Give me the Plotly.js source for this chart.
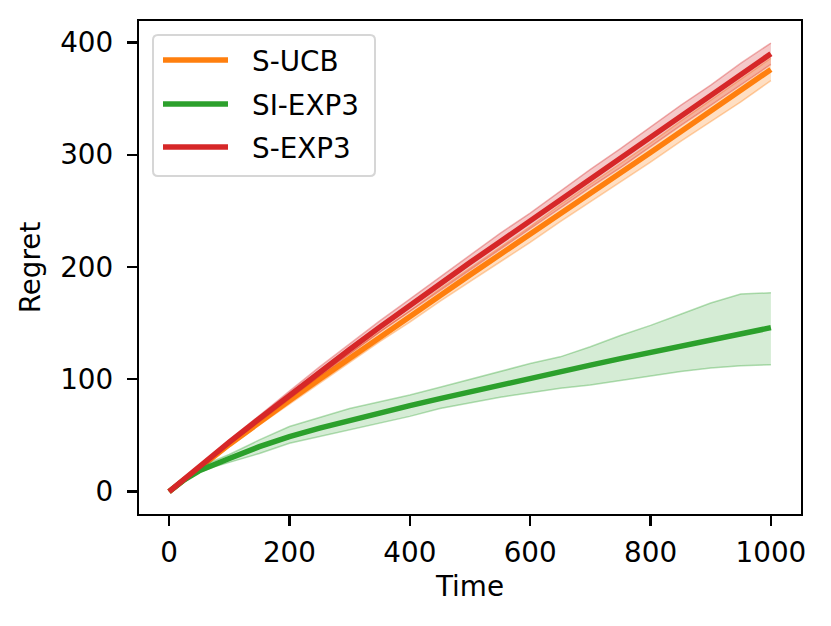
<!DOCTYPE html>
<html>
<head>
<meta charset="utf-8">
<script src="https://cdn.plot.ly/plotly-3.0.1.min.js"></script>
<style>
  html, body { margin: 0; padding: 0; background: #fff; }
  #chart { width: 831px; height: 626px; }
</style>
</head>
<body>
<div id="chart"></div>
<script>
// time steps shared by every series (finer near the start where SI-EXP3 bends)
const time = [0, 10, 25, 50, 75, 100, 150, 200, 250, 300, 350, 400, 450, 500,
  550, 600, 650, 700, 750, 800, 850, 900, 950, 1000];

// S-UCB
const sucbMean = [0, 4.4, 10.8, 21, 31.5, 42, 62, 81, 100, 119, 137.5, 156, 174.5, 193,
  211, 229, 247.5, 266, 284, 302, 320.5, 339, 357.5, 376];
const sucbUpper = [0, 4.6, 11.2, 22, 33, 44, 64.5, 84, 103.5, 123, 142.5, 161, 180.5, 199,
  217.5, 236, 255.5, 274, 292, 310.5, 330, 348.5, 367, 386];
const sucbLower = [0, 4.2, 10.4, 20, 30, 40, 59.5, 78, 96.5, 115, 133.5, 151, 169.5, 187,
  204.5, 222, 240.5, 258, 276, 293.5, 312, 329.5, 347, 366];

// SI-EXP3
const siexpMean = [0, 4.4, 10.5, 18.5, 24.5, 29.5, 40, 49, 56.5, 63.5, 70, 76.5, 82.8, 89,
  95, 101, 106.8, 112.6, 118.4, 124, 129.6, 135.2, 140.6, 146];
const siexpUpper = [0, 4.6, 11, 20.5, 27.5, 33, 46, 58, 66, 74, 80, 86, 93, 100,
  107, 114, 120, 129, 139, 148, 158, 168, 176, 177];
const siexpLower = [0, 4.2, 10, 17, 22, 26, 34, 43, 49, 55, 61, 67, 74, 79,
  84, 88, 92, 95, 99, 103, 107, 110, 112, 113];

// S-EXP3
const sexpMean = [0, 4.5, 11, 22, 33, 44, 65, 86, 106.5, 126.5, 146.5, 166, 185, 204,
  222.5, 241, 260, 278.5, 297, 316, 334.5, 353, 371.5, 390];
const sexpUpper = [0, 4.7, 11.5, 23, 34.5, 46, 68, 89.5, 111, 131.5, 152, 171.5, 191, 210.5,
  230, 248, 267.5, 287, 305.5, 324.5, 344, 362, 381.5, 399.5];
const sexpLower = [0, 4.3, 10.5, 21, 31.5, 42, 62, 82.5, 103, 122.5, 142, 160.5, 179, 197.5,
  216, 234, 252.5, 271, 288.5, 307.5, 326, 344, 362.5, 380.5];

const seriesNames = ['S-UCB', 'SI-EXP3', 'S-EXP3'];
const seriesColors = ['#ff7f0e', '#2ca02c', '#d62728'];

const series = [
  { name: seriesNames[0], color: seriesColors[0], mean: sucbMean, upper: sucbUpper, lower: sucbLower, alpha: 0.25 },
  { name: seriesNames[1], color: seriesColors[1], mean: siexpMean, upper: siexpUpper, lower: siexpLower, alpha: 0.2 },
  { name: seriesNames[2], color: seriesColors[2], mean: sexpMean, upper: sexpUpper, lower: sexpLower, alpha: 0.25 },
];

function rgba(hex, a) {
  const n = parseInt(hex.slice(1), 16);
  return `rgba(${(n >> 16) & 255},${(n >> 8) & 255},${n & 255},${a})`;
}

const data = [];
series.forEach(s => {
  data.push({
    x: time, y: s.lower, mode: 'lines', showlegend: false, hoverinfo: 'skip',
    line: { color: rgba(s.color, 0.35), width: 1.5 },
  });
  data.push({
    x: time, y: s.upper, mode: 'lines', showlegend: false, hoverinfo: 'skip',
    fill: 'tonexty', fillcolor: rgba(s.color, s.alpha),
    line: { color: rgba(s.color, 0.35), width: 1.5 },
  });
  data.push({
    x: time, y: s.mean, mode: 'lines', name: s.name, showlegend: false,
    line: { color: s.color, width: 5.5 },
  });
});

// plot area in pixels (matplotlib-like axes box)
const W = 831, H = 626;
const M = { l: 139, r: 30, t: 21, b: 112 };
const px = x => (x - M.l) / (W - M.l - M.r);
const py = y => (H - M.b - y) / (H - M.t - M.b);

// legend drawn by hand so the sample lines match matplotlib's length
const box = { x0: 153, x1: 375, y0: 35, y1: 176, r: 5 };
const shapes = [{
  type: 'path', xref: 'paper', yref: 'paper',
  path: `M${px(box.x0 + box.r)},${py(box.y0)} L${px(box.x1 - box.r)},${py(box.y0)} ` +
    `Q${px(box.x1)},${py(box.y0)} ${px(box.x1)},${py(box.y0 + box.r)} ` +
    `L${px(box.x1)},${py(box.y1 - box.r)} Q${px(box.x1)},${py(box.y1)} ${px(box.x1 - box.r)},${py(box.y1)} ` +
    `L${px(box.x0 + box.r)},${py(box.y1)} Q${px(box.x0)},${py(box.y1)} ${px(box.x0)},${py(box.y1 - box.r)} ` +
    `L${px(box.x0)},${py(box.y0 + box.r)} Q${px(box.x0)},${py(box.y0)} ${px(box.x0 + box.r)},${py(box.y0)} Z`,
  fillcolor: 'rgba(255,255,255,0.8)',
  line: { color: '#d6d6d6', width: 2 },
}];
const annotations = [];
const rowY = [60, 104, 147];
seriesNames.forEach((name, i) => {
  shapes.push({
    type: 'line', xref: 'paper', yref: 'paper',
    x0: px(163), x1: px(228), y0: py(rowY[i]), y1: py(rowY[i]),
    line: { color: seriesColors[i], width: 5.5 },
  });
  annotations.push({
    xref: 'paper', yref: 'paper', x: px(250), y: py(rowY[i] + 1),
    xanchor: 'left', yanchor: 'middle', showarrow: false,
    text: name, font: { size: 27.8, color: '#000' },
  });
});

const axisCommon = {
  showline: true, linecolor: '#000', linewidth: 2.2, mirror: true,
  ticks: 'outside', ticklen: 10, tickwidth: 2.2, tickcolor: '#000',
  showgrid: false, zeroline: false,
  tickfont: { size: 27.8, color: '#000' },
};

const layout = {
  width: W, height: H,
  margin: M,
  paper_bgcolor: '#fff', plot_bgcolor: '#fff',
  font: { family: 'DejaVu Sans', size: 27.8, color: '#000' },
  showlegend: false,
  xaxis: {
    ...axisCommon,
    range: [-50, 1050],
    tickvals: [0, 200, 400, 600, 800, 1000],
    ticklabelstandoff: 2,
    title: { text: 'Time', standoff: 9, font: { size: 27.8 } },
    automargin: false,
  },
  yaxis: {
    ...axisCommon,
    range: [-19.96, 419.1],
    tickvals: [0, 100, 200, 300, 400],
    ticklabelstandoff: 8,
    title: { text: 'Regret', standoff: 12, font: { size: 27.8 } },
    automargin: false,
  },
  shapes,
  annotations,
};

Plotly.newPlot('chart', data, layout, { staticPlot: true, displayModeBar: false });
</script>
</body>
</html>
